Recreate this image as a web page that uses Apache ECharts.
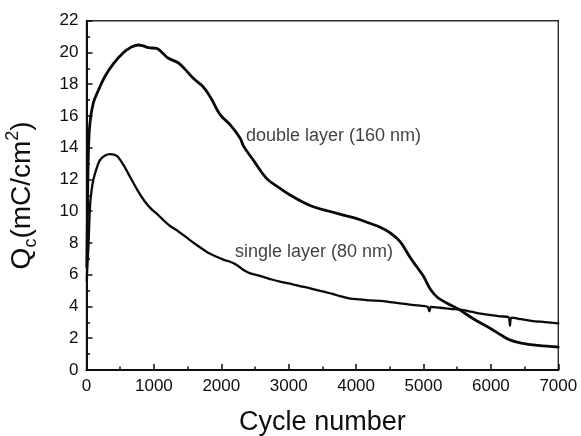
<!DOCTYPE html>
<html>
<head>
<meta charset="utf-8">
<title>Qc vs cycle number</title>
<script src="https://cdn.jsdelivr.net/npm/echarts@6/dist/echarts.min.js"></script>
<style>
  html, body { margin: 0; padding: 0; background: #ffffff; }
  #chart { width: 581px; height: 436px; }
</style>
</head>
<body>
<div id="chart"></div>
<script>
// Charge density Qc over cycling for the two film architectures.
var doubleCycles = [5, 15, 27, 50, 100, 175, 275, 400, 550, 650, 770, 850, 920, 1040, 1120, 1210, 1360, 1460, 1585, 1730, 1850, 1980, 2130, 2280, 2330, 2475, 2670, 2850, 3020, 3200, 3365, 3600, 3810, 4000, 4200, 4350, 4500, 4650, 4800, 4900, 5000, 5100, 5200, 5350, 5500, 5750, 6000, 6150, 6280, 6450, 6700, 7000];
var doubleQc = [6.5, 10.0, 13.5, 15.5, 16.8, 17.6, 18.5, 19.3, 20.0, 20.3, 20.47, 20.4, 20.3, 20.26, 20.0, 19.65, 19.35, 18.95, 18.37, 17.84, 17.1, 16.1, 15.45, 14.6, 14.1, 13.22, 12.07, 11.5, 11.02, 10.6, 10.28, 10.0, 9.76, 9.55, 9.24, 9.0, 8.65, 8.1, 7.1, 6.5, 5.9, 5.1, 4.6, 4.2, 3.88, 3.2, 2.6, 2.2, 1.9, 1.7, 1.55, 1.45];

var singleCycles = [5, 15, 27, 52, 75, 101, 150, 200, 270, 350, 450, 550, 645, 760, 868, 960, 1065, 1150, 1240, 1340, 1436, 1530, 1635, 1780, 1930, 2030, 2130, 2230, 2330, 2430, 2600, 2750, 2870, 3000, 3150, 3320, 3500, 3650, 3760, 3910, 4060, 4210, 4360, 4500, 4650, 4800, 4950, 5060, 5087, 5110, 5250, 5400, 5540, 5700, 5850, 6000, 6135, 6260, 6283, 6305, 6450, 6600, 6800, 7000];
var singleQc = [5.6, 6.8, 7.6, 10.3, 11.3, 11.96, 12.7, 13.22, 13.5, 13.6, 13.48, 12.9, 12.17, 11.3, 10.6, 10.15, 9.76, 9.4, 9.07, 8.8, 8.5, 8.2, 7.87, 7.45, 7.13, 6.95, 6.82, 6.61, 6.3, 6.09, 5.9, 5.7, 5.56, 5.45, 5.3, 5.14, 4.95, 4.8, 4.65, 4.5, 4.45, 4.38, 4.35, 4.28, 4.2, 4.12, 4.05, 3.98, 3.7, 3.97, 3.92, 3.85, 3.8, 3.68, 3.55, 3.45, 3.38, 3.33, 2.8, 3.3, 3.2, 3.1, 3.02, 2.94];

// Curve annotations: text and anchor (left end of the text) in data units.
var noteTexts = ['double layer (160 nm)', 'single layer (80 nm)'];
var noteCycles = [2366, 2203];
var noteQc = [14.73, 7.43];

var xTicks = { min: 0, max: 7000, step: 1000 };
var yTicks = { min: 0, max: 22, step: 2 };

function zip(xs, ys) {
  return xs.map(function (x, i) { return [x, ys[i]]; });
}

var FONT = "'Liberation Sans', Arial, Helvetica, sans-serif";
var INK = '#0e0e0e';

var chart = echarts.init(document.getElementById('chart'), null, { renderer: 'canvas' });

chart.setOption({
  animation: false,
  backgroundColor: '#ffffff',
  grid: {
    left: 86.5, right: 22.7, top: 20.7, bottom: 66,
    containLabel: false,
    outerBoundsMode: 'none',
    show: true, borderColor: '#2a2a2a', borderWidth: 1.4, backgroundColor: 'transparent'
  },
  xAxis: {
    type: 'value',
    min: xTicks.min, max: xTicks.max, interval: xTicks.step,
    name: 'Cycle number',
    nameLocation: 'middle',
    nameGap: 39,
    nameTextStyle: { fontFamily: FONT, fontSize: 27, color: INK },
    axisLine: { show: true, onZero: false, lineStyle: { color: INK, width: 2 } },
    axisTick: { show: true, inside: true, length: 6, lineStyle: { color: INK, width: 1.5 } },
    minorTick: { show: true, splitNumber: 2, length: 3.5, lineStyle: { color: INK, width: 1.5 } },
    axisLabel: {
      fontFamily: FONT, fontSize: 17, color: INK, margin: 8,
      showMinLabel: true, showMaxLabel: true,
      formatter: function (v) { return String(v); }
    },
    splitLine: { show: false }
  },
  yAxis: {
    type: 'value',
    min: yTicks.min, max: yTicks.max, interval: yTicks.step,
    name: '{m|Q}{sub|c}{m|(mC/cm}{sup|2}{m|)}',
    nameLocation: 'middle',
    nameRotate: 90,
    nameGap: 46,
    nameTextStyle: {
      fontFamily: FONT, color: INK,
      rich: {
        m: { fontFamily: FONT, fontSize: 28, color: INK, lineHeight: 36, verticalAlign: 'middle' },
        sub: { fontFamily: FONT, fontSize: 18, color: INK, lineHeight: 16, verticalAlign: 'bottom' },
        sup: { fontFamily: FONT, fontSize: 18, color: INK, lineHeight: 16, verticalAlign: 'top' }
      }
    },
    axisLine: { show: true, onZero: false, lineStyle: { color: INK, width: 2 } },
    axisTick: { show: true, inside: true, length: 6, lineStyle: { color: INK, width: 1.5 } },
    minorTick: { show: true, splitNumber: 2, length: 3.5, lineStyle: { color: INK, width: 1.5 } },
    axisLabel: {
      fontFamily: FONT, fontSize: 17, color: INK, margin: 8,
      formatter: function (v) { return String(v); }
    },
    splitLine: { show: false }
  },
  series: [
    {
      name: 'double layer (160 nm)',
      type: 'line',
      data: zip(doubleCycles, doubleQc),
      showSymbol: false,
      smooth: 0.4,
      lineStyle: { color: '#0a0a0a', width: 2.8, cap: 'round', join: 'round' },
      z: 3
    },
    {
      name: 'single layer (80 nm)',
      type: 'line',
      data: zip(singleCycles, singleQc),
      showSymbol: false,
      smooth: 0.3,
      lineStyle: { color: '#0a0a0a', width: 2.3, cap: 'round', join: 'round' },
      z: 3
    },
    {
      name: 'notes',
      type: 'scatter',
      symbolSize: 0,
      silent: true,
      data: noteTexts.map(function (t, i) { return [noteCycles[i], noteQc[i], t]; }),
      label: {
        show: true,
        position: 'right',
        distance: 0,
        fontFamily: FONT,
        fontSize: 18,
        color: INK,
        formatter: function (p) { return p.value[2]; }
      },
      z: 4
    }
  ]
});
</script>
</body>
</html>
